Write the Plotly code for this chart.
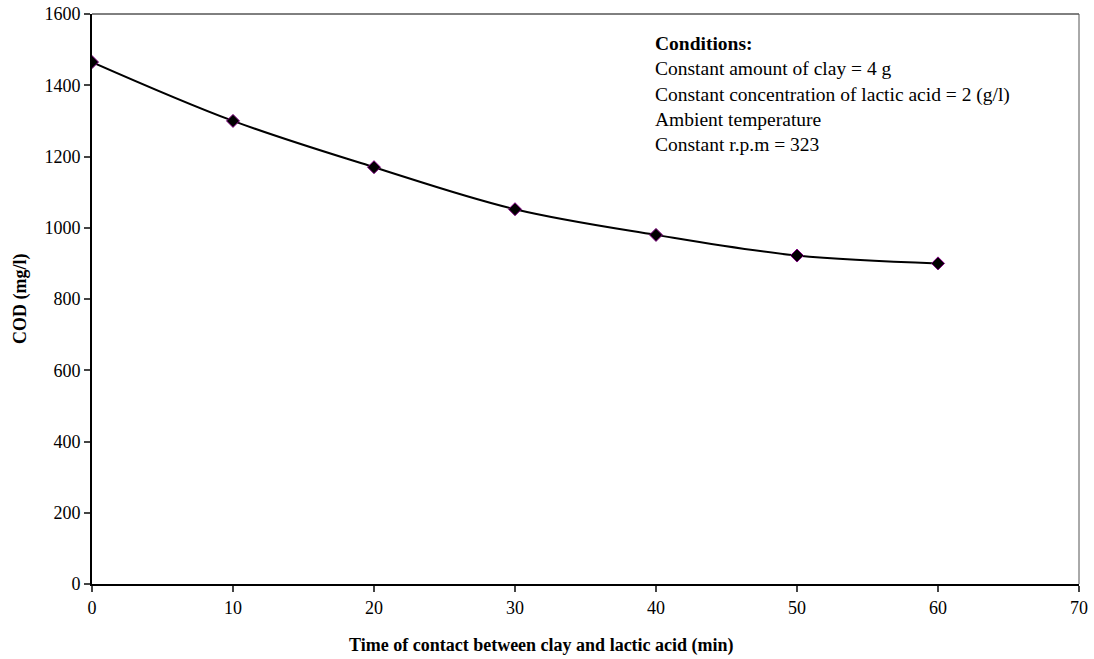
import plotly.graph_objects as go

time_min = [0, 10, 20, 30, 40, 50, 60]
cod = [1465, 1300, 1170, 1052, 980, 922, 900]
x_ticks = [0, 10, 20, 30, 40, 50, 60, 70]
y_ticks = [0, 200, 400, 600, 800, 1000, 1200, 1400, 1600]

font_family = "Liberation Serif"

fig = go.Figure()
fig.add_trace(go.Scatter(
    x=time_min, y=cod, mode="lines+markers",
    line=dict(color="black", width=2, shape="spline", smoothing=1.0),
    marker=dict(symbol="diamond", size=10, color="black", line=dict(color="#800080", width=1)),
    showlegend=False,
))

fig.update_layout(
    width=1094, height=659,
    margin=dict(l=92, r=15, t=14, b=75),
    paper_bgcolor="white", plot_bgcolor="white",
    font=dict(family=font_family, size=18, color="black"),
    xaxis=dict(range=[0, 70], tickvals=x_ticks, ticks="outside", ticklen=6, tickwidth=2,
               showline=True, linecolor="black", linewidth=2, showgrid=False, zeroline=False,
               tickfont=dict(size=18, family=font_family), automargin=False),
    yaxis=dict(range=[0, 1600], tickvals=y_ticks, ticks="outside", ticklen=6, tickwidth=2,
               showline=True, linecolor="black", linewidth=2, showgrid=False, zeroline=False,
               tickfont=dict(size=18, family=font_family), automargin=False),
    shapes=[
        dict(type="line", xref="paper", yref="paper", x0=0, x1=1, y0=1, y1=1,
             line=dict(color="black", width=1)),
        dict(type="line", xref="paper", yref="paper", x0=1, x1=1, y0=0, y1=1,
             line=dict(color="#555555", width=1)),
    ],
    annotations=[
        dict(xref="paper", yref="paper", x=0.455, y=0, xanchor="center", yanchor="middle",
             yshift=-61, showarrow=False, font=dict(size=18, family=font_family),
             text="<b>Time of contact between clay and lactic acid (min)</b>"),
        dict(xref="paper", yref="paper", x=0, y=0.5, xanchor="center", yanchor="middle",
             xshift=-72, textangle=-90, showarrow=False, font=dict(size=18, family=font_family),
             text="<b>COD (mg/l)</b>"),
        dict(xref="paper", yref="paper", x=0.568, y=0.97, xanchor="left", yanchor="top",
             align="left", showarrow=False, font=dict(size=19.5, family=font_family),
             text="<b>Conditions:</b><br>Constant amount of clay = 4 g<br>"
                  "Constant concentration of lactic acid = 2 (g/l)<br>"
                  "Ambient temperature<br>Constant r.p.m = 323"),
    ],
)

fig.write_html("out.html")
